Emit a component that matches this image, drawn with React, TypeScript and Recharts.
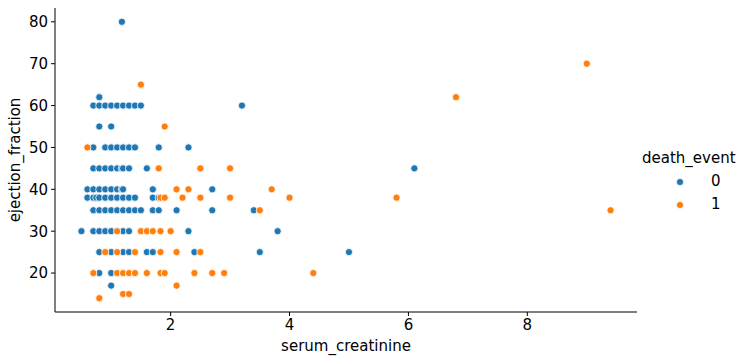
import { ScatterChart, Scatter, XAxis, YAxis, Label } from 'recharts';

// serum creatinine (x) / ejection fraction (y), split by death_event
const aliveCreatinine = [
  1.18, 0.8,
  0.7, 0.8, 0.9, 1.0, 1.1, 1.2, 1.3, 1.4, 1.5, 3.2,
  0.8, 1.0,
  0.7, 0.9, 1.0, 1.1, 1.2, 1.3, 1.4, 1.8, 2.3,
  0.7, 0.8, 0.9, 1.0, 1.1, 1.18, 1.2, 1.3, 1.6, 6.1,
  0.6, 0.7, 0.8, 0.9, 1.0, 1.1, 1.18, 1.2, 1.7, 2.7,
  0.6, 0.7, 0.75, 0.8, 0.9, 1.0, 1.1, 1.2, 1.3, 1.4, 1.7, 1.8,
  0.7, 0.8, 0.9, 1.0, 1.1, 1.2, 1.3, 1.4, 1.5, 1.7, 1.8, 2.1, 2.7, 3.4,
  0.5, 0.7, 0.8, 0.9, 1.0, 1.2, 1.3, 1.6, 2.3, 3.8,
  0.8, 1.0, 1.2, 1.3, 1.6, 1.7, 2.4, 3.5, 5.0,
  0.8, 1.0,
  1.0,
];
const aliveEjection = [
  80, 62,
  60, 60, 60, 60, 60, 60, 60, 60, 60, 60,
  55, 55,
  50, 50, 50, 50, 50, 50, 50, 50, 50,
  45, 45, 45, 45, 45, 45, 45, 45, 45, 45,
  40, 40, 40, 40, 40, 40, 40, 40, 40, 40,
  38, 38, 38, 38, 38, 38, 38, 38, 38, 38, 38, 38,
  35, 35, 35, 35, 35, 35, 35, 35, 35, 35, 35, 35, 35, 35,
  30, 30, 30, 30, 30, 30, 30, 30, 30, 30,
  25, 25, 25, 25, 25, 25, 25, 25, 25,
  20, 20,
  17,
];

const diedCreatinine = [
  9.0, 1.5, 6.8, 1.9, 0.6,
  1.8, 2.5, 3.0,
  2.1, 2.3, 3.7,
  1.83, 1.9, 2.2, 2.5, 3.0, 4.0, 5.8,
  3.5, 9.4,
  1.1, 1.5, 1.6, 1.7, 1.83, 2.0,
  0.9, 1.1, 1.4, 1.83, 2.1, 2.5,
  0.7, 1.1, 1.2, 1.3, 1.4, 1.6, 1.83, 1.9, 2.4, 2.7, 2.9, 4.4,
  2.1, 1.2, 1.3, 0.8,
];
const diedEjection = [
  70, 65, 62, 55, 50,
  45, 45, 45,
  40, 40, 40,
  38, 38, 38, 38, 38, 38, 38,
  35, 35,
  30, 30, 30, 30, 30, 30,
  25, 25, 25, 25, 25, 25,
  20, 20, 20, 20, 20, 20, 20, 20, 20, 20, 20, 20,
  17, 15, 15, 14,
];

const xTicks = [2, 4, 6, 8];
const yTicks = [20, 30, 40, 50, 60, 70, 80];

const BLUE = '#1f77b4';
const ORANGE = '#ff7f0e';
const FONT = 'DejaVu Sans, sans-serif';

const alive = aliveCreatinine.map((x, i) => ({ x, y: aliveEjection[i] }));
const died = diedCreatinine.map((x, i) => ({ x, y: diedEjection[i] }));

const dot = (color: string) => (p: any) => (
  <circle cx={p.cx} cy={p.cy} r={3.6} fill={color} stroke="#fff" strokeWidth={0.8} />
);

function LegendBox() {
  const row = (color: string, label: string) => (
    <div style={{ display: 'flex', alignItems: 'center', height: 23 }}>
      <svg width={42} height={12}>
        <circle cx={38} cy={6} r={3.6} fill={color} stroke="#fff" strokeWidth={0.8} />
      </svg>
      <span style={{ marginLeft: 27 }}>{label}</span>
    </div>
  );
  return (
    <div
      style={{
        position: 'absolute', left: 642, top: 147, width: 105,
        fontFamily: FONT, fontSize: 15, color: '#000', lineHeight: '23px',
      }}
    >
      <div>death_event</div>
      {row(BLUE, '0')}
      {row(ORANGE, '1')}
    </div>
  );
}

export default function App() {
  const tickStyle = { fill: '#000', fontSize: 15, fontFamily: FONT };
  return (
    <div style={{ position: 'absolute', left: 0, top: 0, width: 749, height: 362, background: '#fff' }}>
      <ScatterChart width={749} height={362} margin={{ top: 8, right: 112, bottom: 0, left: 0 }}>
        <XAxis
          type="number"
          dataKey="x"
          domain={[0.055, 9.845]}
          ticks={xTicks}
          height={50}
          tickSize={4}
          tickMargin={3}
          tick={tickStyle}
          stroke="#000"
          tickLine={{ stroke: '#000' }}
          axisLine={{ stroke: '#000' }}
        >
          <Label value="serum_creatinine" position="insideBottom" offset={11} style={{ fill: '#000', fontSize: 15, fontFamily: FONT }} />
        </XAxis>
        <YAxis
          type="number"
          dataKey="y"
          domain={[10.7, 83.3]}
          ticks={yTicks}
          width={55}
          tickSize={4}
          tickMargin={3}
          tick={tickStyle}
          stroke="#000"
          tickLine={{ stroke: '#000' }}
          axisLine={{ stroke: '#000' }}
        >
          <Label value="ejection_fraction" angle={-90} position="center" dx={-13} style={{ fill: '#000', fontSize: 15, fontFamily: FONT, textAnchor: 'middle' }} />
        </YAxis>
        <Scatter name="0" data={alive} shape={dot(BLUE)} isAnimationActive={false} />
        <Scatter name="1" data={died} shape={dot(ORANGE)} isAnimationActive={false} />
      </ScatterChart>
      <LegendBox />
    </div>
  );
}
